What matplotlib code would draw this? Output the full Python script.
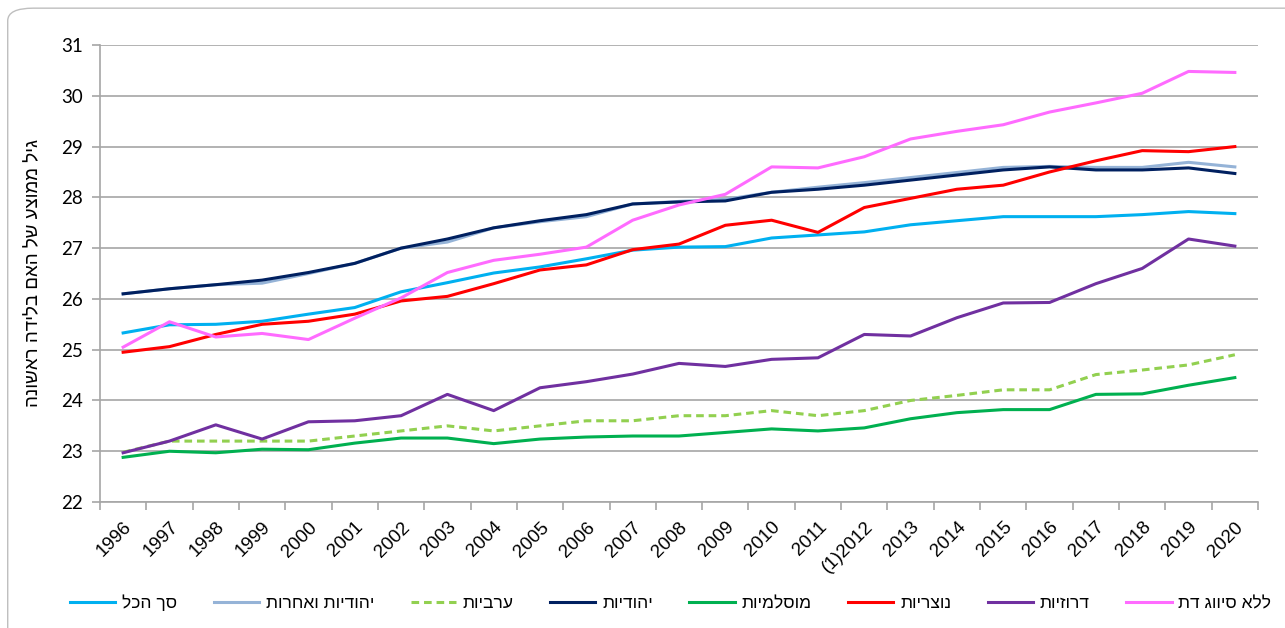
import matplotlib
matplotlib.use("Agg")
import matplotlib.pyplot as plt
from matplotlib.patches import FancyBboxPatch
from matplotlib.ticker import FixedLocator, MultipleLocator

years = ["1996", "1997", "1998", "1999", "2000", "2001", "2002", "2003", "2004",
         "2005", "2006", "2007", "2008", "2009", "2010", "2011", "(1)2012", "2013",
         "2014", "2015", "2016", "2017", "2018", "2019", "2020"]

total = [25.33, 25.49, 25.50, 25.56, 25.70, 25.83, 26.14, 26.32, 26.51, 26.63, 26.79,
         26.96, 27.02, 27.03, 27.20, 27.26, 27.32, 27.46, 27.54, 27.62, 27.62, 27.62,
         27.66, 27.72, 27.68]
jews_others = [26.10, 26.20, 26.28, 26.31, 26.50, 26.70, 27.00, 27.12, 27.40, 27.52, 27.62,
               27.87, 27.92, 27.96, 28.10, 28.20, 28.29, 28.39, 28.49, 28.59, 28.61, 28.59,
               28.59, 28.69, 28.60]
arab = [22.98, 23.20, 23.20, 23.20, 23.20, 23.30, 23.40, 23.50, 23.40, 23.50, 23.60,
        23.60, 23.70, 23.70, 23.80, 23.70, 23.80, 24.00, 24.10, 24.21, 24.21, 24.51,
        24.60, 24.70, 24.90]
jews = [26.10, 26.20, 26.28, 26.37, 26.52, 26.70, 27.00, 27.18, 27.40, 27.54, 27.66,
        27.87, 27.91, 27.93, 28.10, 28.16, 28.24, 28.34, 28.44, 28.54, 28.60, 28.54,
        28.54, 28.58, 28.47]
muslim = [22.88, 23.00, 22.97, 23.04, 23.03, 23.16, 23.26, 23.26, 23.15, 23.24, 23.28,
          23.30, 23.30, 23.37, 23.44, 23.40, 23.46, 23.64, 23.76, 23.82, 23.82, 24.12,
          24.13, 24.30, 24.45]
christian = [24.95, 25.06, 25.30, 25.50, 25.56, 25.70, 25.96, 26.05, 26.30, 26.57, 26.67,
             26.97, 27.08, 27.45, 27.55, 27.31, 27.80, 27.98, 28.16, 28.24, 28.50, 28.72,
             28.92, 28.90, 29.00]
druze = [22.97, 23.20, 23.52, 23.24, 23.58, 23.60, 23.70, 24.12, 23.80, 24.25, 24.37,
         24.52, 24.73, 24.67, 24.81, 24.84, 25.30, 25.27, 25.63, 25.92, 25.93, 26.30,
         26.60, 27.18, 27.04]
no_religion = [25.05, 25.55, 25.25, 25.32, 25.20, 25.62, 26.02, 26.52, 26.76, 26.88, 27.02,
               27.55, 27.85, 28.06, 28.60, 28.58, 28.80, 29.15, 29.30, 29.43, 29.68, 29.86,
               30.05, 30.48, 30.46]

series_names = ["סך הכל", "יהודיות ואחרות", "ערביות", "יהודיות",
                "מוסלמיות", "נוצריות", "דרוזיות", "ללא סיווג דת"]
series_values = [total, jews_others, arab, jews, muslim, christian, druze, no_religion]
series_colors = ["#00B0F0", "#95B3D7", "#92D050", "#002060",
                 "#00B050", "#FF0000", "#7030A0", "#FF6BFF"]
series_styles = ["-", "-", "--", "-", "-", "-", "-", "-"]

y_title = "גיל ממוצע של האם בלידה ראשונה"


def vis(s):
    # matplotlib has no bidi support: reverse Hebrew for visual order
    return s[::-1]


HEB = ["Liberation Sans", "DejaVu Sans"]

fig = plt.figure(figsize=(12.85, 6.28), dpi=100)
ax = fig.add_axes([0.0778, 0.2006, 0.9012, 0.7277])

# rounded outer border
border = FancyBboxPatch((0.006, -0.05), 1.05, 1.037,
                        boxstyle="round,pad=0,rounding_size=0.02",
                        transform=fig.transFigure, fill=False,
                        edgecolor="#BFBFBF", linewidth=1.0, clip_on=False)
fig.patches.append(border)

x = list(range(len(years)))
lines = []
for name, vals, col, ls in zip(series_names, series_values, series_colors, series_styles):
    ln, = ax.plot(x, vals, color=col, linestyle=ls, linewidth=2.2,
                  dashes=(2.5, 1.6) if ls == "--" else (None, None),
                  label=vis(name), solid_joinstyle="round")
    lines.append(ln)

ax.set_xlim(-0.5, len(years) - 0.5)
ax.set_ylim(22, 31)
ax.yaxis.set_major_locator(MultipleLocator(1))
ax.grid(axis="y", color="#A6A6A6", linewidth=1.2)
ax.set_axisbelow(True)

for s in ["top", "right"]:
    ax.spines[s].set_visible(False)
for s in ["left", "bottom"]:
    ax.spines[s].set_color("#A6A6A6")
    ax.spines[s].set_linewidth(1.2)

ax.set_xticks(x)
ax.set_xticklabels(years, rotation=45, ha="right", rotation_mode="anchor",
                   fontsize=13.5, family="Liberation Sans", color="black")
ax.xaxis.set_minor_locator(FixedLocator([i - 0.5 for i in range(len(years) + 1)]))
ax.tick_params(axis="x", which="major", length=0, pad=12)
ax.tick_params(axis="x", which="minor", length=6, color="#A6A6A6", width=1.2)
ax.tick_params(axis="y", length=6, color="#A6A6A6", width=1.2, labelsize=13.5, pad=6)
for lab in ax.get_yticklabels():
    lab.set_family("Lato")

ax.set_ylabel(vis(y_title), family=HEB, fontsize=13.5, labelpad=14)

fig.legend(handles=lines, loc="center", ncol=8, bbox_to_anchor=(0.522, 0.04),
           frameon=False, prop={"family": HEB, "size": 12.5},
           handlelength=2.6, handletextpad=0.4, columnspacing=2.1)

fig.savefig("out.png", dpi=100)
